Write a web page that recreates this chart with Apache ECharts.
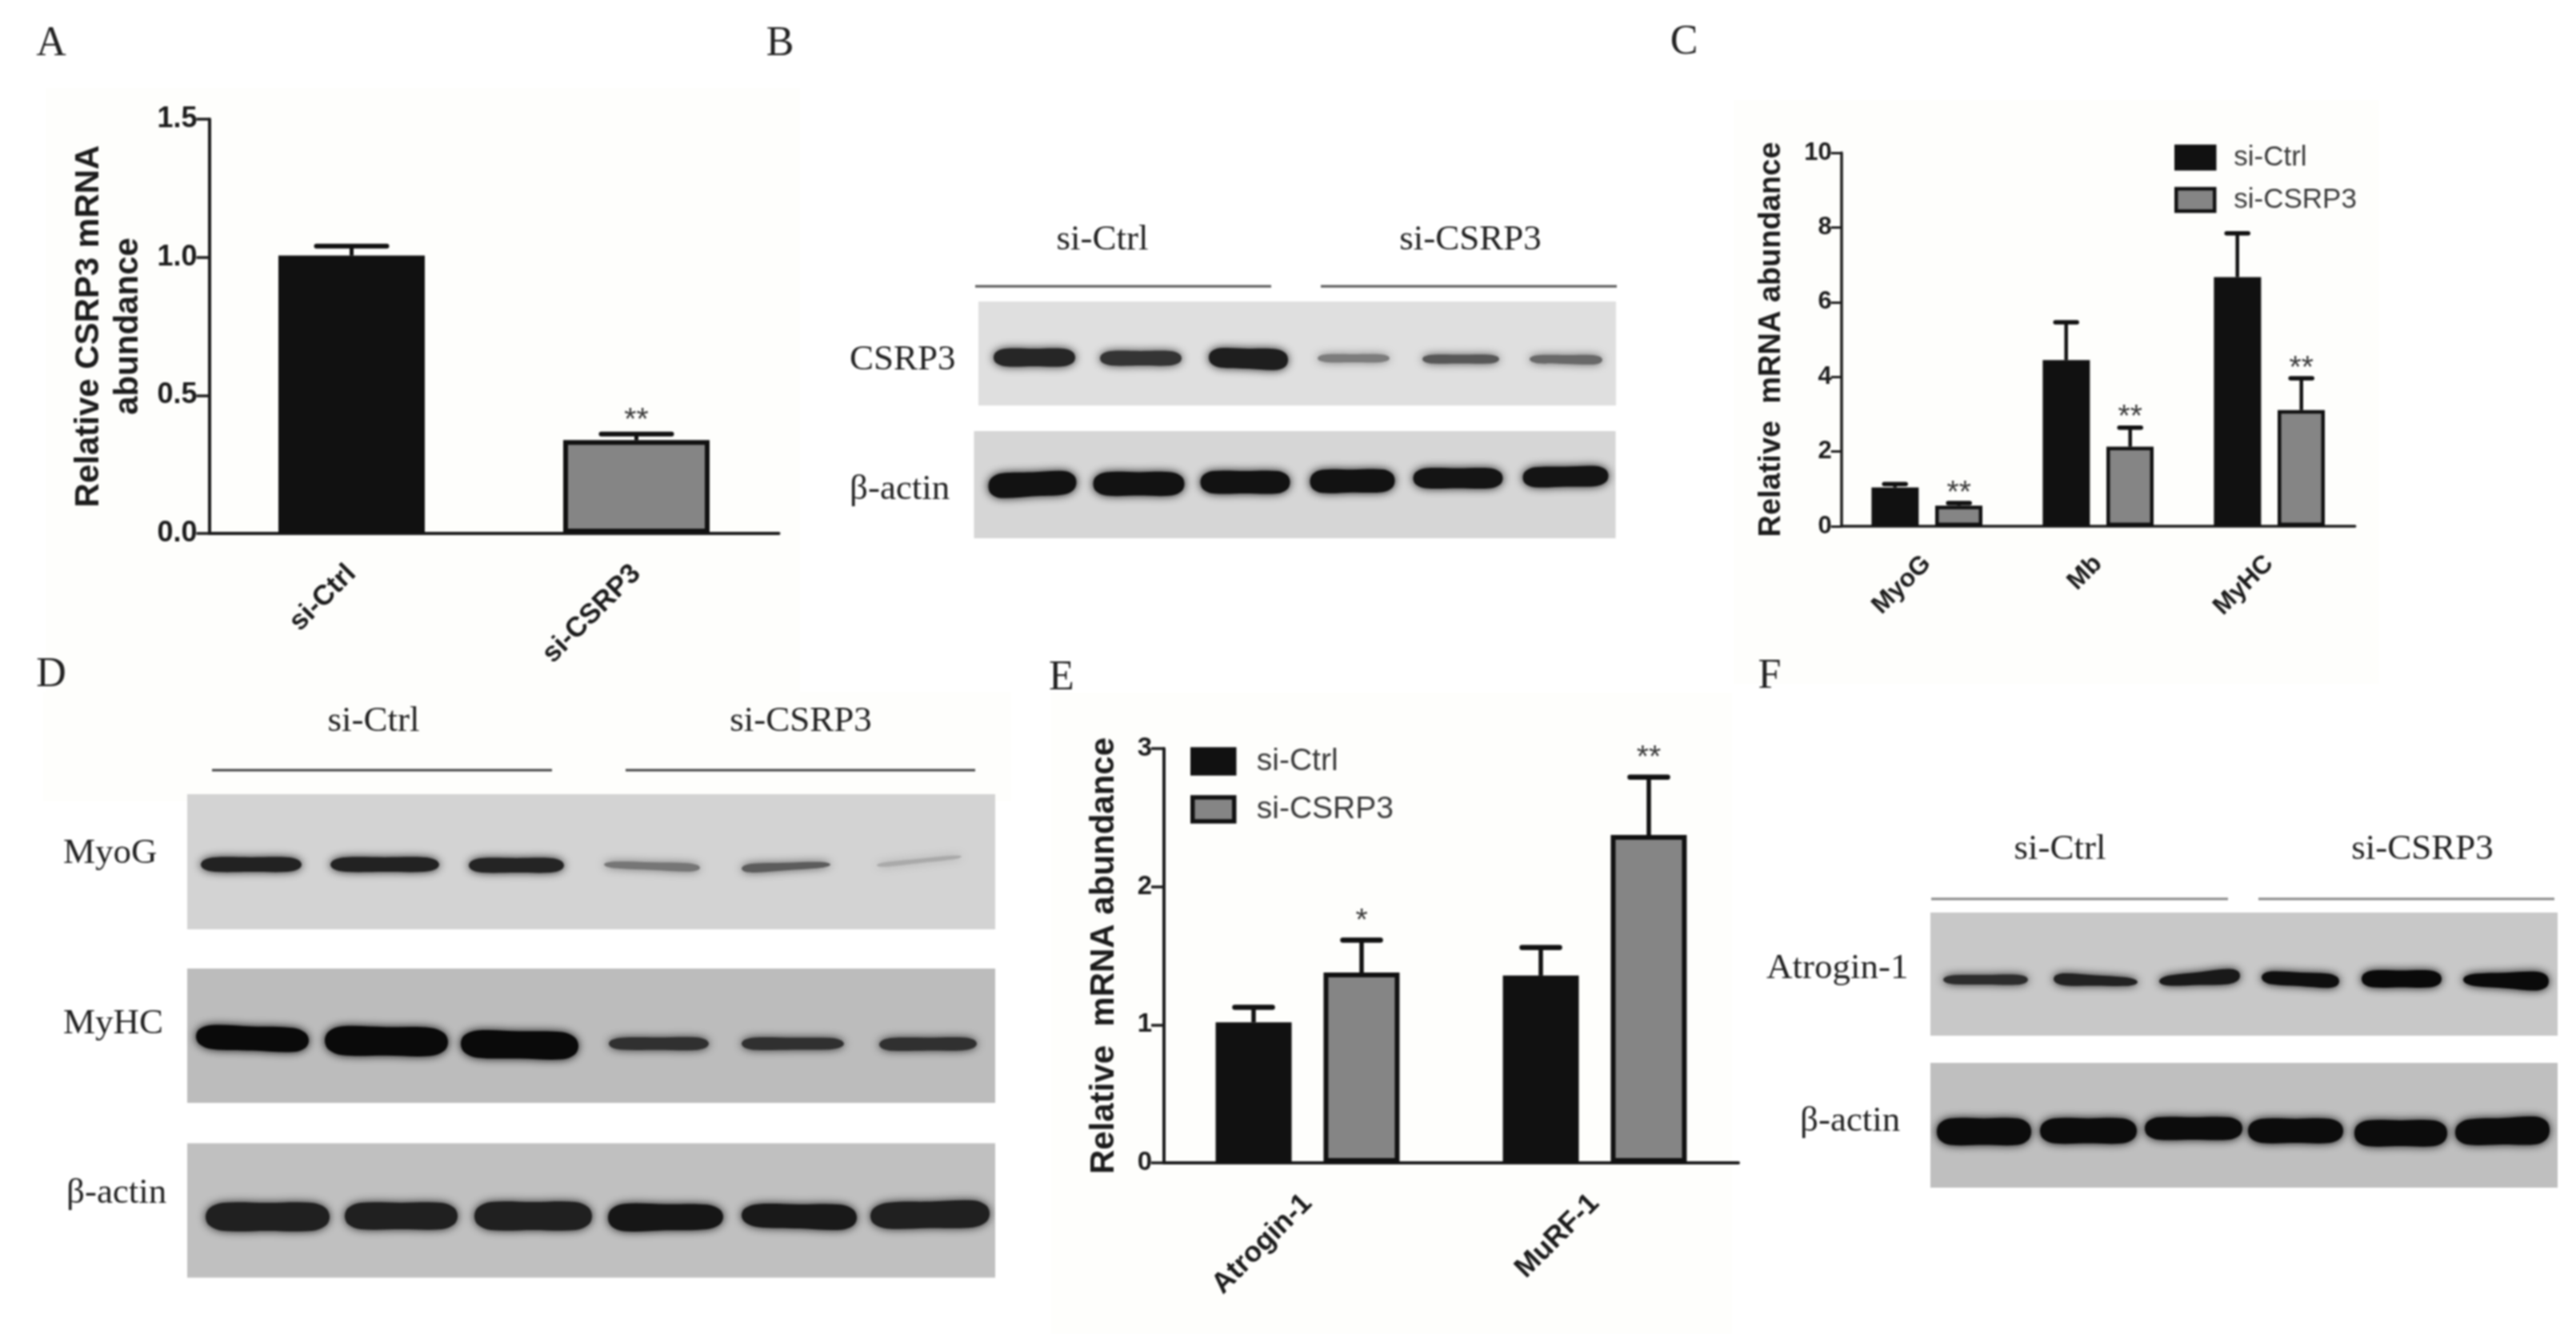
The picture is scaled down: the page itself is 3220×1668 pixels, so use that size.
<!DOCTYPE html>
<html><head><meta charset="utf-8">
<style>html,body{margin:0;padding:0;background:#fff}#c{width:3220px;height:1668px;filter:blur(0.8px)}</style>
<script src="https://cdn.jsdelivr.net/npm/echarts@6/dist/echarts.min.js"></script>
</head><body><div id="c"></div>
<script>
// ---------- data: bar charts ----------
const groupNames = ['si-Ctrl', 'si-CSRP3'];
const aCategories = ['si-Ctrl', 'si-CSRP3'];
const aValues = [1.006, 0.338];
const aCaps = [1.04, 0.36];
const aStars = ['', '**'];
const aTicks = ['0.0', '0.5', '1.0', '1.5'];

const cCategories = ['MyoG', 'Mb', 'MyHC'];
const cCtrl = [1.04, 4.45, 6.67];
const cCtrlCaps = [1.13, 5.46, 7.84];
const cCsrp3 = [0.55, 2.13, 3.11];
const cCsrp3Caps = [0.62, 2.64, 3.96];
const cStars = ['**', '**', '**'];

const eCategories = ['Atrogin-1', 'MuRF-1'];
const eCtrl = [1.018, 1.356];
const eCtrlCaps = [1.127, 1.56];
const eCsrp3 = [1.378, 2.374];
const eCsrp3Caps = [1.613, 2.793];
const eStars = ['*', '**'];

// ---------- data: blot bands, each [xStart, xEnd, yLeft, yRight, thickLeft, thickRight, grey] ----------
const bandsCSRP3 = [[19,121,70,70,22,22,38],[152,254,71,71,18,18,52],[288,387,70,73,24,26,30],[424,514,71,71,10,10,125],[555,651,72,72,11,11,88],[689,780,72,73,10,12,105]];
const bandsActinB = [[18,128,69,64,31,29,18],[149,263,66,66,29,29,18],[283,395,64,64,28,28,18],[420,526,63,62,29,28,18],[549,661,59,59,25,25,20],[686,793,58,56,25,25,20]];
const bandsMyoG = [[17,143,88,88,18,18,34],[179,315,88,88,18,18,34],[352,471,89,89,18,18,36],[521,641,88,92,8,11,118],[693,804,93,88,12,7,92],[862,968,89,78,6,5,170]];
const bandsMyHC = [[11,152,85,90,30,30,10],[172,326,90,92,36,35,10],[342,489,94,97,34,34,10],[527,652,94,94,15,16,48],[693,821,94,94,16,14,48],[865,987,95,94,16,16,48]];
const bandsActinD = [[23,178,92,92,35,35,32],[197,338,91,91,33,33,32],[359,506,91,91,35,35,32],[526,670,93,92,35,30,22],[693,837,90,93,28,32,25],[854,1003,91,88,32,34,32]];
const bandsAtrogin = [[16,122,84,84,11,13,45],[154,259,83,87,16,10,34],[286,387,86,79,12,20,25],[414,511,81,86,16,18,15],[539,639,83,83,21,21,10],[666,773,84,86,14,25,10]];
const bandsActinF = [[8,126,86,86,33,33,12],[137,258,85,85,31,31,12],[268,390,82,82,28,28,12],[397,516,85,85,30,30,12],[530,646,88,88,32,32,12],[656,774,87,84,31,35,12]];

// ---------- layout and style ----------
const SANS = '"Liberation Sans", Arial, sans-serif';
const SERIF = '"Liberation Serif", "Times New Roman", serif';
const BLACK = '#111111', GREY = '#858585', INK = '#1c1c1c';

const blots = [
  {bands: bandsCSRP3,   x: 1223,   y: 377,    w: 797,  h: 130, bg: '#dfdfdf'},
  {bands: bandsActinB,  x: 1217.5, y: 539,    w: 802,  h: 134, bg: '#d6d6d6'},
  {bands: bandsMyoG,    x: 234,    y: 993,    w: 1010, h: 169, bg: '#d3d3d3'},
  {bands: bandsMyHC,    x: 234,    y: 1211,   w: 1010, h: 168, bg: '#bcbcbc'},
  {bands: bandsActinD,  x: 234,    y: 1429.5, w: 1010, h: 168, bg: '#c0c0c0'},
  {bands: bandsAtrogin, x: 2413,   y: 1141,   w: 784,  h: 154, bg: '#c8c8c8'},
  {bands: bandsActinF,  x: 2413,   y: 1329,   w: 784,  h: 156, bg: '#bfbfbf'}
];

const grids = [], xAxes = [], yAxes = [], series = [];

function addBarGrid(o) {
  const idx = grids.length;
  grids.push({left: o.left, top: o.top, width: o.width, height: o.height});
  xAxes.push({
    gridIndex: idx, type: 'category', data: o.categories,
    axisLine: {lineStyle: {color: INK, width: o.axisW}},
    axisTick: {alignWithLabel: true, length: o.tick, lineStyle: {color: INK, width: o.axisW - 0.5}},
    axisLabel: {rotate: 45, margin: o.catMargin, color: INK, fontFamily: SANS, fontWeight: 'bold', fontSize: o.catFont, interval: 0}
  });
  yAxes.push({
    gridIndex: idx, type: 'value', min: 0, max: o.max, interval: o.interval,
    name: o.title, nameLocation: 'middle', nameRotate: 90, nameGap: o.titleGap,
    nameTextStyle: {color: INK, fontFamily: SANS, fontWeight: 'bold', fontSize: o.titleFont, lineHeight: o.titleLine},
    splitLine: {show: false},
    axisLine: {show: true, lineStyle: {color: INK, width: o.axisW}},
    axisTick: {show: true, length: o.tick, lineStyle: {color: INK, width: o.axisW - 0.5}},
    axisLabel: {margin: o.tick - 1, color: INK, fontFamily: SANS, fontWeight: 'bold', fontSize: o.tickFont, formatter: o.fmt}
  });
  return idx;
}

function errorSeries(idx, values, caps, stars, offset, capW, lw, starGap, starFont) {
  return {
    type: 'custom', xAxisIndex: idx, yAxisIndex: idx, silent: true, z: 3,
    encode: {x: 0, y: [1, 2]},
    data: values.map((v, i) => [i, v, caps[i]]),
    renderItem(params, api) {
      const i = api.value(0);
      const base = api.coord([i, api.value(1)]);
      const top = api.coord([i, api.value(2)]);
      const cx = base[0] + offset;
      const kids = [
        {type: 'line', shape: {x1: cx, y1: base[1], x2: cx, y2: top[1]}, style: {stroke: BLACK, lineWidth: lw}},
        {type: 'line', shape: {x1: cx - capW / 2, y1: top[1], x2: cx + capW / 2, y2: top[1]}, style: {stroke: BLACK, lineWidth: lw + 1, lineCap: 'round'}}
      ];
      const s = stars[params.dataIndex];
      if (s) kids.push({type: 'text', style: {text: s, x: cx, y: top[1] - starGap, align: 'center', verticalAlign: 'middle',
        fill: '#3a3a3a', font: starFont + 'px ' + SANS}});
      return {type: 'group', children: kids};
    }
  };
}

// Panel A
const ga = addBarGrid({left: 261.5, top: 149, width: 712, height: 518, categories: aCategories, max: 1.5, interval: 0.5,
  title: 'Relative CSRP3 mRNA\nabundance', titleGap: 77, titleFont: 42, titleLine: 49, tickFont: 36, catFont: 35, catMargin: 45, tick: 16, axisW: 4,
  fmt: v => aTicks[Math.round(v * 2)]});
series.push({type: 'bar', name: 'Relative CSRP3 mRNA abundance', xAxisIndex: ga, yAxisIndex: ga, barWidth: 183,
  itemStyle: {borderColor: BLACK, borderWidth: 6},
  data: aValues.map((v, i) => ({value: v, itemStyle: {color: i ? GREY : BLACK}}))});
series.push(errorSeries(ga, aValues, aCaps, aStars, 0, 88, 5, 16, 39));

// Panel C
const gc = addBarGrid({left: 2301.7, top: 191, width: 642, height: 467, categories: cCategories, max: 10, interval: 2,
  title: 'Relative  mRNA abundance', titleGap: 65, titleFont: 38, titleLine: 44, tickFont: 31, catFont: 32, catMargin: 42, tick: 13, axisW: 3.5});
[[groupNames[0], cCtrl, BLACK, cCtrlCaps, -40, cStars.map(() => '')], [groupNames[1], cCsrp3, GREY, cCsrp3Caps, 40, cStars]].forEach(s => {
  series.push({type: 'bar', name: s[0], xAxisIndex: gc, yAxisIndex: gc, barWidth: 59, barGap: '35%', data: s[1],
    itemStyle: {color: s[2], borderColor: BLACK, borderWidth: 4.5}});
  series.push(errorSeries(gc, s[1], s[3], s[5], s[4], 27, 4.5, 12, 39));
});

// Panel E
const ge = addBarGrid({left: 1455, top: 936, width: 718, height: 518, categories: eCategories, max: 3, interval: 1,
  title: 'Relative  mRNA abundance', titleGap: 51, titleFont: 42, titleLine: 48, tickFont: 33, catFont: 36, catMargin: 45, tick: 16, axisW: 4});
[[groupNames[0], eCtrl, BLACK, eCtrlCaps, -67.5, eStars.map(() => '')], [groupNames[1], eCsrp3, GREY, eCsrp3Caps, 67.5, eStars]].forEach(s => {
  series.push({type: 'bar', name: s[0], xAxisIndex: ge, yAxisIndex: ge, barWidth: 95, barGap: '42%', data: s[1],
    itemStyle: {color: s[2], borderColor: BLACK, borderWidth: 6}});
  series.push(errorSeries(ge, s[1], s[3], s[5], s[4], 47, 5.5, 23, 39));
});

// Blots: each has its own hidden scale in which the bands are placed
function bandItem(params, api) {
  const x0 = api.value(0), x1 = api.value(1), yL = api.value(2), yR = api.value(3), hL = api.value(4), hR = api.value(5), g = api.value(6);
  const at = t => ({x: x0 + (x1 - x0) * t, y: yL + (yR - yL) * t, h: (hL + (hR - hL) * t)});
  const top = [], bot = [];
  [0.03, 0.14, 0.5, 0.86, 0.97].forEach((t, k) => {
    const p = at(t), f = (k === 0 || k === 4) ? 0.62 : 1;
    top.push(api.coord([p.x, p.y - p.h / 2 * f]));
    bot.unshift(api.coord([p.x, p.y + p.h / 2 * f]));
  });
  const c = 'rgb(' + g + ',' + g + ',' + g + ')';
  return {type: 'polygon', shape: {points: [api.coord([x0, yL])].concat(top, [api.coord([x1, yR])], bot), smooth: 0.35},
    style: {fill: c, shadowBlur: 11, shadowColor: c}};
}
blots.forEach(b => {
  const idx = grids.length;
  grids.push({show: true, left: b.x, top: b.y, width: b.w, height: b.h, backgroundColor: b.bg, borderWidth: 0});
  xAxes.push({gridIndex: idx, type: 'value', min: 0, max: b.w, show: false});
  yAxes.push({gridIndex: idx, type: 'value', min: 0, max: b.h, inverse: true, show: false});
  series.push({type: 'custom', xAxisIndex: idx, yAxisIndex: idx, silent: true, clip: true,
    encode: {x: [0, 1], y: [2, 3]}, data: b.bands, renderItem: bandItem});
});

// Texts and rules around the blots
const elements = [];
function patch(x, y, w, h) { elements.push({type: 'rect', z: -5, shape: {x, y, width: w, height: h}, style: {fill: '#fefefc'}}); }
patch(57, 110, 943, 820); patch(2167, 125, 807, 730); patch(54, 865, 1210, 137); patch(1314, 866, 851, 802);
function txt(t, x, y, size, align, fill) {
  elements.push({type: 'text', z: 10, x, y, style: {text: t, align: align || 'center', verticalAlign: 'middle',
    fontFamily: SERIF, fontSize: size, fill: fill || '#222'}});
}
function rule(x1, x2, y, c) { elements.push({type: 'line', z: 10, shape: {x1, y1: y, x2, y2: y}, style: {stroke: c, lineWidth: 3}}); }
[['A', 64, 55], ['B', 975, 55], ['C', 2105, 53], ['D', 64, 844], ['E', 1327, 848], ['F', 2212, 846]].forEach(p => txt(p[0], p[1], p[2], 52));
txt(groupNames[0], 1378, 300, 45); txt(groupNames[1], 1838, 300, 45); rule(1219, 1589, 358, '#555'); rule(1651, 2021, 358, '#555');
txt(groupNames[0], 467, 902, 45); txt(groupNames[1], 1001, 902, 45); rule(265, 690, 963, '#444'); rule(782, 1219, 963, '#444');
txt(groupNames[0], 2575, 1062, 45); txt(groupNames[1], 3028, 1062, 45); rule(2414, 2785, 1124, '#888'); rule(2823, 3193, 1124, '#888');
txt('CSRP3', 1062, 450, 45, 'left'); txt('β-actin', 1062, 612, 45, 'left');
txt('MyoG', 79, 1067, 45, 'left'); txt('MyHC', 79, 1280, 45, 'left'); txt('β-actin', 83, 1492, 45, 'left');
txt('Atrogin-1', 2208, 1211, 45, 'left'); txt('β-actin', 2250, 1402, 45, 'left');

const chart = echarts.init(document.getElementById('c'));
chart.setOption({
  animation: false,
  backgroundColor: '#ffffff',
  grid: grids, xAxis: xAxes, yAxis: yAxes, series,
  legend: [
    {left: 2718, top: 177, padding: 0, orient: 'vertical', icon: 'rect', selectedMode: false, itemWidth: 48, itemHeight: 28, itemGap: 13,
      data: groupNames, itemStyle: {borderColor: BLACK, borderWidth: 4.5},
      textStyle: {fontFamily: SANS, fontSize: 35, lineHeight: 40, color: '#3a3a3a', padding: [0, 0, 0, 19]}},
    {left: 1488, top: 930, padding: 0, orient: 'vertical', icon: 'rect', selectedMode: false, itemWidth: 52, itemHeight: 30, itemGap: 16,
      data: groupNames, itemStyle: {borderColor: BLACK, borderWidth: 5.5},
      textStyle: {fontFamily: SANS, fontSize: 39, lineHeight: 44, color: '#3a3a3a', padding: [0, 0, 0, 23]}}
  ],
  graphic: {elements}
});
</script></body></html>
